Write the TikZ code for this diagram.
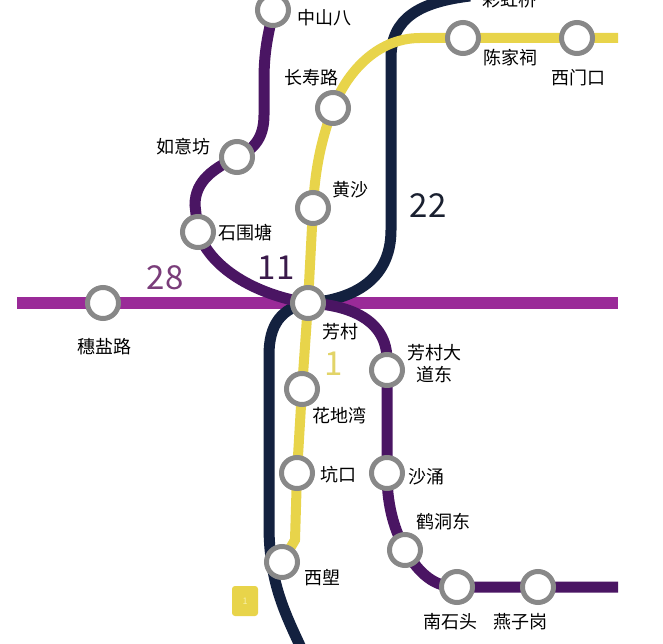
\documentclass[tikz,border=0pt]{standalone}
\usepackage{fontspec}
\setmainfont{Noto Sans CJK SC}
\definecolor{lA}{HTML}{9A2A98}
\definecolor{lB}{HTML}{4A1563}
\definecolor{lC}{HTML}{13213F}
\definecolor{lY}{HTML}{E8D44A}
\definecolor{ring}{HTML}{888888}
\definecolor{tA}{HTML}{7A3D7A}
\definecolor{tB}{HTML}{3A1A4A}
\definecolor{tC}{HTML}{1A2030}
\definecolor{tY}{HTML}{E2D468}
\definecolor{badgetxt}{HTML}{F6F0A8}
\begin{document}
\begin{tikzpicture}[x=1pt,y=-1pt,
  stn/.style={circle,draw=ring,line width=5pt,fill=white,minimum size=31pt,inner sep=0pt},
  lbl/.style={font=\fontsize{18}{22}\selectfont,text=black,inner sep=0pt,align=center},
  num/.style={font=\fontsize{33}{36}\selectfont,inner sep=0pt},
  lineA/.style={draw=lA,line width=12pt},
  lineB/.style={draw=lB,line width=11pt},
  lineC/.style={draw=lC,line width=11pt},
  lineY/.style={draw=lY,line width=10pt}]
\useasboundingbox (0,0) rectangle (663,644);
\fill[white] (0,0) rectangle (663,644);
\clip (0,0) rectangle (663,644);

% station positions
\coordinate (zhongshanba) at (273,10);
\coordinate (ruyifang) at (237,157);
\coordinate (shiweitang) at (198,232);
\coordinate (fangcun) at (308,303);
\coordinate (suiyan) at (103,303);
\coordinate (changshou) at (333,108);
\coordinate (huangsha) at (313,208);
\coordinate (chenjiaci) at (463,38);
\coordinate (ximenkou) at (577,38);
\coordinate (huadiwan) at (302,389);
\coordinate (kengkou) at (297,473);
\coordinate (xilang) at (282,562);
\coordinate (fcdadong) at (387,370);
\coordinate (shayong) at (387,473);
\coordinate (hedong) at (405,550);
\coordinate (nanshitou) at (457,587);
\coordinate (yanzigang) at (538,587);
% free ends
\coordinate (wA) at (17,303);
\coordinate (eA) at (618,303);
\coordinate (eY) at (618,38);
\coordinate (eB) at (618,587);
\coordinate (nB) at (275,-20);
\coordinate (nC) at (470,-4);
\coordinate (sC) at (302,650);

% line 28
\draw[lineA] (wA) -- (suiyan) -- (fangcun) -- (eA);
% line 22
\draw[lineC] (fangcun) .. controls (350,300) and (391,282) .. (391,230)
  -- (391,58) .. controls (391,18) and (420,2) .. (nC);
\draw[lineC] (fangcun) .. controls (281,308) and (269,325) .. (269,355)
  -- (269,530) .. controls (270,585) and (286,615) .. (sC);
% line 11
\draw[lineB] (nB) -- (zhongshanba) .. controls (270,30) and (264,45) .. (264,80)
  -- (264,115) .. controls (264,140) and (252,150) .. (ruyifang)
  .. controls (215,168) and (195,180) .. (195,205) -- (shiweitang)
  .. controls (212,272) and (262,296) .. (fangcun)
  .. controls (350,305) and (387,320) .. (387,360) -- (fcdadong) -- (shayong)
  .. controls (387,510) and (396,532) .. (hedong)
  .. controls (420,575) and (435,587) .. (nanshitou) -- (yanzigang) -- (eB);
% line 1
\draw[lineY] (eY) -- (ximenkou) -- (chenjiaci) -- (420,38)
  .. controls (376,38) and (346,74) .. (changshou)
  .. controls (323,135) and (315,165) .. (huangsha)
  -- (fangcun) -- (huadiwan) -- (kengkou) -- (295,540) -- (xilang);

% stations
\foreach \s in {zhongshanba,ruyifang,shiweitang,fangcun,suiyan,changshou,huangsha,
  chenjiaci,ximenkou,huadiwan,kengkou,xilang,fcdadong,shayong,hedong,nanshitou,yanzigang}
  \node[stn] (s-\s) at (\s) {};

% labels
\node[lbl,anchor=west] (t-zhongshanba) at (297,18) {中山八};
\node[lbl] (t-ruyifang) at (183,147) {如意坊};
\node[lbl] (t-shiweitang) at (245,233) {石围塘};
\node[lbl] (t-fangcun) at (340,332) {芳村};
\node[lbl] (t-suiyan) at (104,347) {穗盐路};
\node[lbl] (t-changshou) at (311,78) {长寿路};
\node[lbl] (t-huangsha) at (350,190) {黄沙};
\node[lbl] (t-caihong) at (509,0) {彩虹桥};
\node[lbl] (t-chenjiaci) at (510,58) {陈家祠};
\node[lbl] (t-ximenkou) at (578,78) {西门口};
\node[lbl] (t-huadiwan) at (339,416) {花地湾};
\node[lbl] (t-kengkou) at (338,475) {坑口};
\node[lbl] (t-xilang) at (322,578) {西塱};
\node[lbl] (t-fcdadong) at (434,364) {芳村大\\道东};
\node[lbl] (t-shayong) at (426,477) {沙涌};
\node[lbl] (t-hedong) at (443,522) {鹤洞东};
\node[lbl] (t-nanshitou) at (450,622) {南石头};
\node[lbl] (t-yanzigang) at (520,622) {燕子岗};

% line numbers
\node[num,text=tA] (n28) at (165,278) {28};
\node[num,text=tB] (n11) at (276,268) {11};
\node[num,text=tC] (n22) at (428,206) {22};
\node[num,text=tY] (n1) at (334,364) {1};

% badge
\node[fill=lY,rounded corners=3pt,minimum width=26pt,minimum height=30pt,inner sep=0pt,
  font=\fontsize{9}{9}\selectfont,text=badgetxt] (badge) at (245,601) {1};
\end{tikzpicture}
\end{document}
